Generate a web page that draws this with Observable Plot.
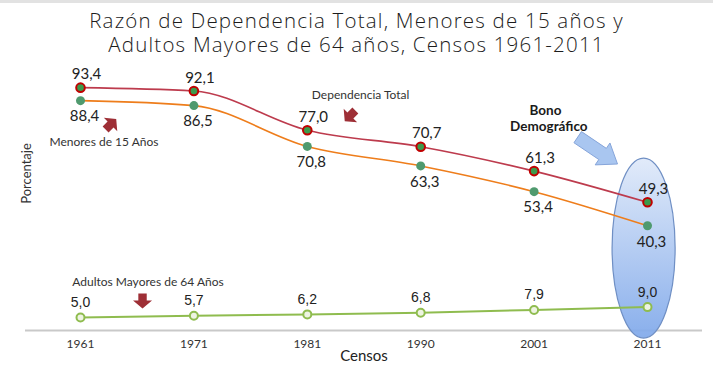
<!DOCTYPE html>
<html>
<head>
<meta charset="utf-8">
<script src="https://cdn.jsdelivr.net/npm/d3@7"></script>
<script src="https://cdn.jsdelivr.net/npm/@observablehq/plot@0.6"></script>
<style>
  html, body { margin: 0; padding: 0; background: #fff; }
  #title {
    box-sizing: border-box; width: 713px; height: 62px;
    border-top: 3px solid #e2e2e2; padding-top: 5px;
    font-family: "Open Sans", Lato, sans-serif; font-weight: 300; font-size: 20.5px;
    letter-spacing: 1.2px; color: #1c1c1c; text-align: center;
  }
  #title div { height: 24px; line-height: 24px; white-space: nowrap; }
  #chart svg { display: block; }
</style>
</head>
<body>
<div id="title"><div>Razón de Dependencia Total, Menores de 15 años y</div><div>Adultos Mayores de 64 años, Censos 1961-2011</div></div>
<div id="chart"></div>
<script>
// ---- data ----
const years   = ["1961", "1971", "1981", "1990", "2001", "2011"];
const total   = [93.4, 92.1, 77.0, 70.7, 61.3, 49.3];
const menores = [88.4, 86.5, 70.8, 63.3, 53.4, 40.3];
const adultos = [5.0, 5.7, 6.2, 6.8, 7.9, 9.0];

// ---- annotations (data coordinates: x = census index, y = percent) ----
const noteTexts = ["Dependencia Total", "Menores de 15 Años", "Adultos Mayores de 64 Años"];
const noteX = [2.47, 0.207, 0.595];
const noteY = [90.4, 72.3, 18.5];
const arrowX = [2.38, 0.265, 0.547];
const arrowY = [82.7, 79.2, 11.5];
const arrowAngle = [135, -45, 90];
const bonoLines = ["Bono", "Demográfico"];
const bonoX = [4.10, 4.13];
const bonoY = [84.4, 78.4];
const bigArrowX = 4.56, bigArrowY = 69.2, bigArrowAngle = 34;
const ellipseX = 4.97, ellipseY = 31.5, ellipseRX = 0.278, ellipseRY = 34.6;

const fmt = v => d3.format(".1f")(v).replace(".", ",");
const idx = (d, i) => i;
const val = d => d;

function arrowSymbol(points, angleDeg) {
  const a = angleDeg * Math.PI / 180, c = Math.cos(a), s = Math.sin(a);
  return {
    draw(ctx, size) {
      const r = Math.sqrt(size / Math.PI);
      points.forEach(([px, py], k) => {
        const x = (px * c - py * s) * r, y = (px * s + py * c) * r;
        if (k === 0) ctx.moveTo(x, y); else ctx.lineTo(x, y);
      });
      ctx.closePath();
    }
  };
}
const smallArrowPts = [[-0.7,-0.42],[0,-0.42],[0,-0.95],[0.8,0],[0,0.95],[0,0.42],[-0.7,0.42]];
const bigArrowPts = [[-1,-0.28],[0.25,-0.28],[0.25,-0.55],[1,0],[0.25,0.55],[0.25,0.28],[-1,0.28]];

const ellipseMark = (index, scales) => {
  const g = d3.create("svg:g");
  const lg = g.append("defs").append("linearGradient")
    .attr("id", "bonoGrad").attr("x1", 0).attr("y1", 0).attr("x2", 0).attr("y2", 1);
  lg.append("stop").attr("offset", "0%").attr("stop-color", "#dfe9f9");
  lg.append("stop").attr("offset", "100%").attr("stop-color", "#7fa8ea");
  const cx = scales.x(ellipseX), cy = scales.y(ellipseY);
  g.append("ellipse")
    .attr("cx", cx).attr("cy", cy)
    .attr("rx", scales.x(ellipseX + ellipseRX) - cx)
    .attr("ry", cy - scales.y(ellipseY + ellipseRY))
    .attr("fill", "url(#bonoGrad)")
    .attr("fill-opacity", 0.92)
    .attr("stroke", "#6f8fc4").attr("stroke-width", 1.2);
  return g.node();
};

const sans = "Lato, 'Open Sans', sans-serif";
const narrow = "'Liberation Sans Narrow', 'Liberation Sans', Arial, sans-serif";

const chart = Plot.plot({
  width: 713, height: 320,
  marginTop: 8, marginBottom: 52, marginLeft: 25, marginRight: 11,
  x: { domain: [-0.485, 5.485], axis: null },
  y: { domain: [0, 100], axis: null },
  style: { fontFamily: sans, background: "#fff" },
  marks: [
    Plot.ruleY([0], { stroke: "#c9c9c9", strokeWidth: 2 }),
    Plot.text(years, { x: idx, y: 0, text: d => d, dy: 14, fontSize: 12, fill: "#333", fontFamily: sans }),
    ellipseMark,
    // lines
    Plot.line(total, { x: idx, y: val, stroke: "#bd3b4d", strokeWidth: 1.6, curve: "monotone-x" }),
    Plot.line(menores, { x: idx, y: val, stroke: "#ee7d1b", strokeWidth: 1.6, curve: "monotone-x" }),
    Plot.line(adultos, { x: idx, y: val, stroke: "#8fbc4f", strokeWidth: 2 }),
    // dots
    Plot.dot(total, { x: idx, y: val, r: 4.3, fill: "#3c9a4c", stroke: "#c00000", strokeWidth: 2 }),
    Plot.dot(menores, { x: idx, y: val, r: 4.5, fill: "#4f9a6e" }),
    Plot.dot(adultos, { x: idx, y: val, r: 4, fill: "#eef4e2", stroke: "#8fbc4f", strokeWidth: 2 }),
    // value labels
    Plot.text(total, { x: idx, y: val, text: fmt, dx: 6, dy: -13, fontSize: 15, fill: "#222" }),
    Plot.text(menores, { x: idx, y: val, text: fmt, dx: 4, dy: 16, fontSize: 15, fill: "#222" }),
    Plot.text(adultos, { x: idx, y: val, text: fmt, dy: -15, fontSize: 14, fill: "#222", fontFamily: narrow }),
    // annotations
    Plot.text(noteTexts, { x: (d, i) => noteX[i], y: (d, i) => noteY[i], text: d => d, fontSize: 12, fill: "#333" }),
    ...arrowX.map((ax, i) => Plot.dot([ax], { x: d => d, y: () => arrowY[i], r: 10,
      symbol: arrowSymbol(smallArrowPts, arrowAngle[i]), fill: "#9e2f36", stroke: "none" })),
    Plot.text(bonoLines, { x: (d, i) => bonoX[i], y: (d, i) => bonoY[i], text: d => d, fontSize: 13.5, fontWeight: "bold", fill: "#1a1a1a" }),
    Plot.dot([bigArrowX], { x: d => d, y: bigArrowY, r: 24, symbol: arrowSymbol(bigArrowPts, bigArrowAngle),
      fill: "#a9c6f0", stroke: "#86a5da", strokeWidth: 1 }),
    Plot.text(["Porcentaje"], { x: -0.47, y: 60.4, text: d => d, rotate: -90, fontSize: 13, fill: "#333" }),
    Plot.text(["Censos"], { frameAnchor: "bottom", dy: 30, text: d => d, fontSize: 15, fill: "#222" })
  ]
});
document.getElementById("chart").appendChild(chart);
</script>
</body>
</html>
